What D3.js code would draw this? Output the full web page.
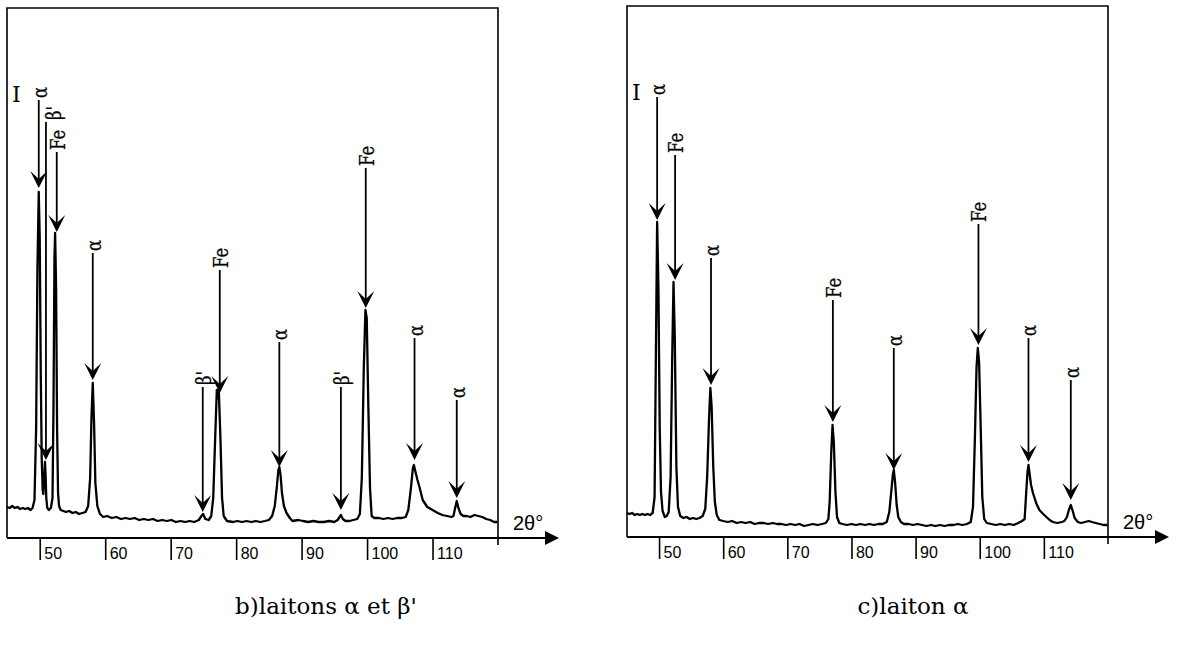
<!DOCTYPE html>
<html>
<head>
<meta charset="utf-8">
<script src="https://cdn.jsdelivr.net/npm/d3@7"></script>
<style>
  html, body { margin: 0; padding: 0; background: #fff; }
  svg { display: block; }
</style>
</head>
<body>
<svg id="chart" width="1177" height="646"></svg>
<script>
// Diffractogrammes X : b) laitons alpha et beta', c) laiton alpha

const thetaDomain = [45, 120];
const tickValues = [50, 60, 70, 80, 90, 100, 110];

// trace b) : [2theta, intensite (u.a.)]
const traceB = [
  [45.0,31],[45.4,30],[45.8,32],[46.2,30],[46.6,31],[47.0,29],[47.4,30],[47.8,29],[48.2,30],[48.6,28],[48.9,30],
  [49.2,38],[49.45,110],[49.65,270],[49.85,346],[50.0,300],[50.15,170],[50.3,80],[50.45,48],[50.55,44],
  [50.7,62],[50.8,76],[50.9,62],[51.0,40],[51.15,30],[51.4,28],[51.7,30],
  [51.95,40],[52.1,130],[52.25,280],[52.35,305],[52.5,250],[52.65,110],[52.8,45],[52.95,32],[53.2,28],
  [53.6,27],[54.0,26],[54.5,27],[55.0,25],[55.5,26],[56.0,24],[56.5,25],[57.0,26],
  [57.4,32],[57.7,60],[57.9,120],[58.1,155],[58.3,115],[58.5,55],[58.8,32],[59.2,24],[59.7,21],
  [60.3,22],[61.0,20],[61.7,21],[62.4,19],[63.1,20],[63.8,19],[64.5,20],[65.2,18],[65.9,19],[66.6,18],
  [67.3,19],[68.0,17],[68.7,18],[69.4,17],[70.1,18],[70.8,16],[71.5,17],[72.2,16],[72.9,17],[73.6,16],[74.3,18],
  [74.7,22],[74.95,24],[75.3,19],[75.8,18],[76.2,22],
  [76.5,40],[76.8,100],[77.05,148],[77.2,140],[77.35,148],[77.6,100],[77.85,40],[78.1,22],[78.6,17],
  [79.5,16],[80.2,17],[80.9,16],[81.6,17],[82.3,16],[83.0,17],[83.7,16],[84.4,17],[85.0,18],[85.5,22],
  [85.9,32],[86.2,50],[86.45,68],[86.6,71],[86.8,62],[87.0,45],[87.3,32],[87.7,25],[88.2,20],[88.6,17],
  [89.5,18],[90.2,17],[91.0,16],[91.8,17],[92.6,16],[93.4,16],[94.2,17],[95.0,16],[95.5,18],
  [95.8,21],[96.0,23],[96.3,19],[96.7,17],[97.3,17],[97.9,18],[98.5,19],
  [98.9,24],[99.2,60],[99.5,170],[99.75,228],[99.95,220],[100.2,130],[100.45,50],[100.7,22],[101.1,20],
  [101.8,20],[102.5,19],[103.2,20],[103.9,19],[104.6,20],[105.3,20],[105.9,21],
  [106.3,28],[106.7,50],[107.0,70],[107.15,73],[107.4,66],[107.7,58],[108.0,51],[108.5,38],[109.2,31],
  [110.0,28],[110.8,25],[111.5,23],[112.2,22],[112.9,21],
  [113.2,22],[113.45,30],[113.7,37],[113.95,30],[114.3,24],[114.7,22],[115.2,22],[115.8,21],
  [116.4,23],[117.0,22],[117.6,21],[118.2,19],[118.8,18],[119.4,16],[119.9,16]
];

// trace c)
const traceC = [
  [45.0,24],[45.4,23],[45.8,24],[46.2,22],[46.6,23],[47.0,22],[47.4,23],[47.8,22],[48.2,23],[48.6,22],[49.0,24],
  [49.3,40],[49.5,180],[49.7,315],[49.9,250],[50.1,110],[50.3,45],[50.55,26],[50.9,20],
  [51.2,21],[51.5,25],[51.8,60],[52.05,180],[52.25,255],[52.45,200],[52.7,70],[52.95,30],[53.3,21],
  [53.8,19],[54.3,20],[54.8,18],[55.3,19],[55.8,18],[56.3,19],[56.8,21],
  [57.2,28],[57.5,60],[57.8,120],[58.0,149],[58.2,130],[58.45,70],[58.7,35],[59.0,22],[59.4,17],
  [60.0,16],[60.7,15],[61.4,16],[62.1,14],[62.8,15],[63.5,14],[64.2,15],[64.9,13],[65.6,14],[66.3,14],
  [67.0,13],[67.7,14],[68.4,13],[69.1,13],[69.8,12],[70.5,13],[71.2,12],[71.9,13],[72.6,11],[73.3,12],
  [74.0,13],[74.7,12],[75.4,13],[76.0,14],[76.4,18],
  [76.6,35],[76.85,85],[77.05,112],[77.25,95],[77.5,45],[77.75,20],[78.1,14],[78.6,13],
  [79.3,12],[80.0,13],[80.7,12],[81.4,13],[82.1,12],[82.8,13],[83.5,12],[84.2,13],[84.9,13],[85.5,15],
  [85.9,25],[86.2,45],[86.45,62],[86.6,67],[86.8,55],[87.05,32],[87.3,20],[87.7,15],[88.2,13],
  [88.9,13],[89.6,12],[90.3,13],[91.0,12],[91.7,11],[92.4,12],[93.1,11],[93.8,12],[94.5,11],[95.2,12],
  [95.9,12],[96.6,13],[97.3,12],[98.0,13],[98.6,15],
  [98.95,30],[99.25,100],[99.5,170],[99.7,189],[99.9,175],[100.15,110],[100.4,40],[100.7,18],[101.1,14],
  [101.8,13],[102.5,12],[103.2,13],[103.9,12],[104.6,13],[105.3,12],[106.0,14],[106.6,16],
  [107.0,18],[107.25,45],[107.45,65],[107.6,72],[107.8,62],[108.0,52],[108.3,44],[108.8,34],[109.3,27],
  [109.9,23],[110.4,20],[110.9,17],[111.4,15],[112.1,14],[112.8,15],
  [113.2,16],[113.6,20],[113.9,27],[114.2,32],[114.5,26],[114.8,19],[115.3,15],[115.8,14],
  [116.4,15],[117.0,16],[117.5,15],[118.1,14],[118.7,13],[119.3,12],[119.9,12]
];

// pics annotes : [2theta, phase, haut du trait, pointe de la fleche] (intensite)
const peaksB = [
  [49.85, 'α', 438, 350],
  [50.95, 'β\'', 416, 78],
  [52.6, 'Fe', 386, 306],
  [58.1, 'α', 285, 158],
  [74.9, 'β\'', 151, 26],
  [77.5, 'Fe', 268, 145],
  [86.6, 'α', 196, 71],
  [96.0, 'β\'', 151, 28],
  [99.8, 'Fe', 370, 230],
  [107.25, 'α', 200, 78],
  [113.7, 'α', 138, 40]
];
const peaksC = [
  [49.7, 'α', 440, 317],
  [52.5, 'Fe', 382, 257],
  [58.1, 'α', 279, 152],
  [77.1, 'Fe', 237, 115],
  [86.6, 'α', 189, 67],
  [99.8, 'Fe', 313, 192],
  [107.6, 'α', 199, 75],
  [114.2, 'α', 157, 37]
];

const svg = d3.select('#chart');

function drawPanel(p) {
    const x = d3.scaleLinear().domain(thetaDomain).range([p.left, p.right]);
    const y = d3.scaleLinear().domain([0, p.iMax]).range([p.bottom, p.top]);
    const g = svg.append('g');

    // frame
    g.append('path')
        .attr('d', `M${p.left},${p.bottom} L${p.left},${p.top} L${p.right},${p.top} L${p.right},${p.bottom + 7}`)
        .attr('fill', 'none')
        .attr('stroke', '#000')
        .attr('stroke-width', 1.6);

    // 2theta axis with arrow
    const tip = p.right + 61;
    g.append('line')
        .attr('x1', p.left).attr('x2', tip - 10)
        .attr('y1', p.bottom).attr('y2', p.bottom)
        .attr('stroke', '#000').attr('stroke-width', 2);
    g.append('path')
        .attr('d', `M${tip},${p.bottom} L${tip - 14},${p.bottom - 7} L${tip - 14},${p.bottom + 7} Z`)
        .attr('fill', '#000');

    const axis = g.append('g')
        .attr('transform', `translate(0,${p.bottom})`)
        .call(d3.axisBottom(x).tickValues(tickValues).tickSize(22).tickFormat(d3.format('d')));
    axis.select('.domain').remove();
    axis.selectAll('.tick line').attr('stroke', '#000').attr('stroke-width', 1.6);
    axis.selectAll('.tick text')
        .attr('x', 4).attr('y', 10).attr('dy', '0.71em')
        .attr('text-anchor', 'start')
        .style('font-family', '"Liberation Sans", Arial, sans-serif')
        .style('font-size', '16px')
        .style('fill', '#000');

    g.append('text')
        .attr('x', p.right + 15).attr('y', p.bottom - 8)
        .text('2θ°')
        .style('font-family', '"Liberation Sans", Arial, sans-serif')
        .style('font-size', '20px');

    // intensity label
    g.append('text')
        .attr('x', p.left + 5).attr('y', p.top + 94)
        .text('I')
        .style('font-family', '"DejaVu Serif", serif')
        .style('font-size', '22px');

    // diffractogram
    const line = d3.line().x(d => x(d[0])).y(d => y(d[1]));
    g.append('path')
        .datum(p.trace)
        .attr('d', line)
        .attr('fill', 'none')
        .attr('stroke', '#000')
        .attr('stroke-width', 2.3)
        .attr('stroke-linejoin', 'round');

    // peak arrows and phase labels
    p.peaks.forEach((d, i) => {
        const px = x(d[0]);
        const yTop = y(d[2]);
        const yTip = y(d[3]);
        g.append('line')
            .attr('x1', px).attr('x2', px)
            .attr('y1', yTop).attr('y2', yTip - 8)
            .attr('stroke', '#000').attr('stroke-width', 1.8);
        g.append('path')
            .attr('d', `M${px},${yTip} L${px - 8.5},${yTip - 17} L${px},${yTip - 9} L${px + 8.5},${yTip - 17} Z`)
            .attr('fill', '#000');
        const dx = (p.labelDx[i] || 0);
        g.append('text')
            .attr('transform', `translate(${px + dx},${yTop - 2}) rotate(-90) scale(0.82,1)`)
            .attr('dy', '0.4em')
            .attr('text-anchor', 'start')
            .text(d[1])
            .style('font-family', '"DejaVu Serif", serif')
            .style('font-size', '20px')
            .style('stroke', '#000')
            .style('stroke-width', 0.3);
    });

    // caption
    svg.append('text')
        .attr('x', p.titleX).attr('y', 614)
        .attr('text-anchor', 'middle')
        .text(p.title)
        .style('font-family', '"DejaVu Serif", serif')
        .style('font-size', '23px');
}

drawPanel({
    left: 7, right: 498, top: 8, bottom: 538, iMax: 530,
    trace: traceB, peaks: peaksB, labelDx: {1: 7},
    title: 'b)laitons α et β\'', titleX: 326
});
drawPanel({
    left: 627, right: 1108, top: 6, bottom: 537, iMax: 531,
    trace: traceC, peaks: peaksC, labelDx: {},
    title: 'c)laiton α', titleX: 913
});
</script>
</body>
</html>
